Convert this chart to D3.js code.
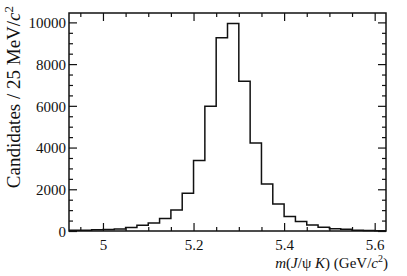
<!DOCTYPE html>
<html>
<head>
<meta charset="utf-8">
<script src="https://cdn.jsdelivr.net/npm/d3@7"></script>
<style>
    body { margin: 0; background: #fff; }
</style>
</head>
<body>
<div id="chart"></div>
<script>
// ---- size of the picture
const w = 407;
const h = 276;
const serif = "'Liberation Serif', 'Times New Roman', 'DejaVu Serif', serif";

//  ----   padding   ------
const pLeft = 69;
const pRight = 21;
const pTop = 13;
const pBottom = 45;

// ---- DATA: 25 MeV bins, lower edges in GeV/c^2
const binEdges = [
    4.925, 4.95, 4.975, 5.0, 5.025, 5.05, 5.075, 5.1, 5.125, 5.15,
    5.175, 5.2, 5.225, 5.25, 5.275, 5.3, 5.325, 5.35, 5.375, 5.4,
    5.425, 5.45, 5.475, 5.5, 5.525, 5.55, 5.575, 5.6,
];
const candidates = [
    30, 40, 55, 70, 100, 170, 270, 380, 600, 1010,
    1810, 3380, 5980, 9260, 9950, 7180, 4220, 2250, 1300, 690,
    450, 290, 180, 110, 80, 30, 20, 15,
];
const binWidth = 0.025;
const xMajorTicks = [5.0, 5.2, 5.4, 5.6];
const xMinorTicks = [4.95, 5.05, 5.1, 5.15, 5.25, 5.3, 5.35, 5.45, 5.5, 5.55];
const yMajorTicks = [0, 2000, 4000, 6000, 8000, 10000];
const yMinorTicks = [500, 1000, 1500, 2500, 3000, 3500, 4500, 5000, 5500,
    6500, 7000, 7500, 8500, 9000, 9500, 10500];

// SCALES
const xScale = d3.scaleLinear()
    .domain([4.925, 5.625])
    .range([pLeft, w - pRight]);

const yScale = d3.scaleLinear()
    .domain([0, 10450])
    .range([h - pBottom, pTop]);

const svg = d3.select("#chart")
    .append("svg")
    .attr("width", w)
    .attr("height", h);

// ---- ticks on all four sides, pointing inward
const major = 8;
const minor = 4;

function tickGroup(axisFn, scale, ticks, size, transform) {
    const ax = axisFn(scale).tickValues(ticks).tickSize(size).tickFormat("");
    const g = svg.append("g").attr("transform", transform).call(ax);
    g.select(".domain").remove();
    g.selectAll(".tick line").attr("stroke", "#111").attr("stroke-width", 1.2);
    return g;
}

const yMinorIn = yMinorTicks.filter((t) => t <= 10450);

// bottom
tickGroup(d3.axisTop, xScale, xMajorTicks, major, `translate(0,${h - pBottom})`);
tickGroup(d3.axisTop, xScale, xMinorTicks, minor, `translate(0,${h - pBottom})`);
// top
tickGroup(d3.axisBottom, xScale, xMajorTicks, major, `translate(0,${pTop})`);
tickGroup(d3.axisBottom, xScale, xMinorTicks, minor, `translate(0,${pTop})`);
// left
tickGroup(d3.axisRight, yScale, yMajorTicks, major, `translate(${pLeft},0)`);
tickGroup(d3.axisRight, yScale, yMinorIn, minor, `translate(${pLeft},0)`);
// right
tickGroup(d3.axisLeft, yScale, yMajorTicks, major, `translate(${w - pRight},0)`);
tickGroup(d3.axisLeft, yScale, yMinorIn, minor, `translate(${w - pRight},0)`);

// ---- tick labels
const xLabels = d3.axisBottom(xScale)
    .tickValues(xMajorTicks)
    .tickSize(0)
    .tickPadding(8)
    .tickFormat((d) => (d === 5 ? "5" : d3.format(".1f")(d)));
const gx = svg.append("g")
    .attr("transform", `translate(0,${h - pBottom})`)
    .call(xLabels);
gx.select(".domain").remove();
gx.attr("font-family", null);
gx.selectAll("text")
    .style("font-family", serif)
    .style("font-size", "15px")
    .attr("fill", "#111");

const yLabels = d3.axisLeft(yScale)
    .tickValues(yMajorTicks)
    .tickSize(0)
    .tickPadding(3)
    .tickFormat(d3.format("d"));
const gy = svg.append("g")
    .attr("transform", `translate(${pLeft},0)`)
    .call(yLabels);
gy.select(".domain").remove();
gy.attr("font-family", null);
gy.selectAll("text")
    .style("font-family", serif)
    .style("font-size", "15px")
    .attr("dy", "0.36em")
    .attr("fill", "#111");

// ---- HISTOGRAM (step line)
const steps = binEdges.map((e, i) => [e, candidates[i]]);
steps.push([binEdges[binEdges.length - 1] + binWidth, candidates[candidates.length - 1]]);

const line = d3.line()
    .curve(d3.curveStepAfter)
    .x((d) => xScale(d[0]))
    .y((d) => yScale(d[1]));

svg.append("path")
    .attr("d", line(steps))
    .attr("fill", "none")
    .attr("stroke", "#111")
    .attr("stroke-width", 1.5);

// ---- frame
svg.append("rect")
    .attr("x", pLeft)
    .attr("y", pTop)
    .attr("width", w - pLeft - pRight)
    .attr("height", h - pTop - pBottom)
    .attr("fill", "none")
    .attr("stroke", "#111")
    .attr("stroke-width", 1.5);

// X-LABEL
const xt = svg.append("text")
    .attr("x", w - pRight + 2)
    .attr("y", h - 8)
    .attr("text-anchor", "end")
    .style("font-family", serif)
    .style("font-size", "15px")
    .attr("fill", "#111");
xt.append("tspan").style("font-style", "italic").text("m");
xt.append("tspan").text("(");
xt.append("tspan").style("font-style", "italic").text("J");
xt.append("tspan").text("/\u03C8 ");
xt.append("tspan").style("font-style", "italic").text("K");
xt.append("tspan").text(") (GeV/");
xt.append("tspan").style("font-style", "italic").text("c");
xt.append("tspan").attr("dy", -6).style("font-size", "10px").text("2");
xt.append("tspan").attr("dy", 6).text(")");

// Y-LABEL
const yt = svg.append("text")
    .attr("transform", "rotate(-90)")
    .attr("x", -6)
    .attr("y", 20)
    .attr("text-anchor", "end")
    .style("font-family", serif)
    .style("font-size", "19px")
    .attr("fill", "#111");
yt.append("tspan").text("Candidates / 25 MeV/");
yt.append("tspan").style("font-style", "italic").text("c");
yt.append("tspan").attr("dy", -7).style("font-size", "13px").text("2");
</script>
</body>
</html>
